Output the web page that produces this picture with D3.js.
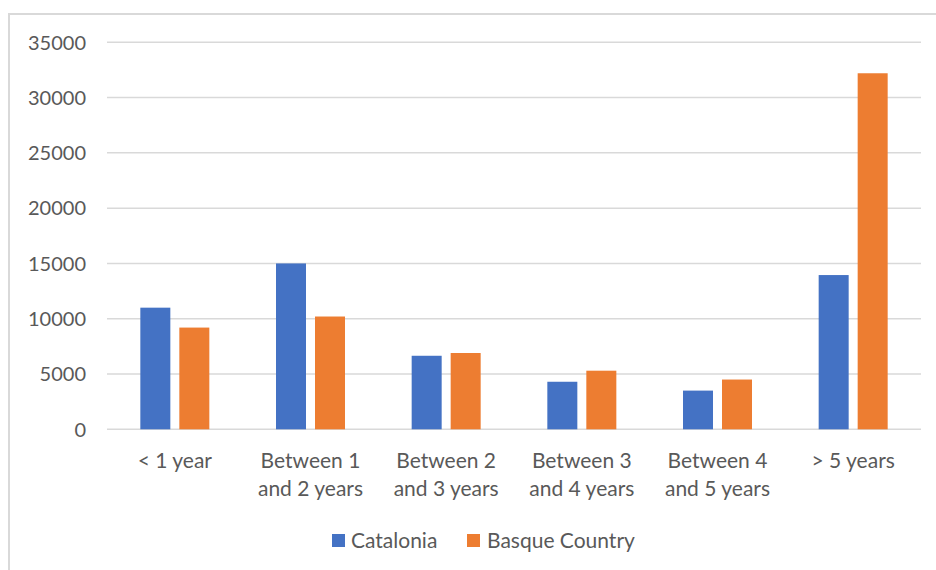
<!DOCTYPE html>
<html><head><meta charset="utf-8">
<script src="https://cdn.jsdelivr.net/npm/d3@7"></script>
<style>body{margin:0;background:#fff}svg{display:block}text{font-family:Lato,"Open Sans",sans-serif;fill:#595959}</style>
</head><body><svg id="c" width="936" height="570"></svg>
<script>
const categories = [["< 1 year"],["Between 1","and 2 years"],["Between 2","and 3 years"],["Between 3","and 4 years"],["Between 4","and 5 years"],["> 5 years"]];
const seriesNames = ["Catalonia","Basque Country"];
const catalonia = [11000,15000,6650,4300,3500,13950];
const basque = [9200,10200,6900,5300,4500,32200];
const yTicks = [0,5000,10000,15000,20000,25000,30000,35000];
const colors = ["#4472C4","#ED7D31"];

const svg = d3.select("#c");
svg.append("rect").attr("x",9).attr("y",14).attr("width",1000).attr("height",600)
  .attr("fill","#fff").attr("stroke","#d9d9d9").attr("stroke-width",2);

const L=107,R=921,T=42.3,B=429.3;
const x = d3.scaleBand().domain(d3.range(categories.length)).range([L,R]).paddingInner(0).paddingOuter(0);
const y = d3.scaleLinear().domain([0,35000]).range([B,T]);

svg.append("g").selectAll("line").data(yTicks).join("line")
  .attr("x1",L).attr("x2",R).attr("y1",d=>y(d)).attr("y2",d=>y(d))
  .attr("stroke","#d9d9d9").attr("stroke-width",1.5);
svg.append("g").selectAll("text").data(yTicks).join("text")
  .attr("x",86).attr("y",d=>y(d)).attr("dy","0.36em").attr("text-anchor","end")
  .attr("font-size",20).text(d=>d);

const bw = 30, gap = 9;
const data = [catalonia, basque];
data.forEach((vals,si)=>{
  svg.append("g").selectAll("rect").data(vals).join("rect")
    .attr("x",(d,i)=>x(i)+x.bandwidth()/2 - (bw*2+gap)/2 + si*(bw+gap))
    .attr("width",bw)
    .attr("y",d=>y(d)).attr("height",d=>B-y(d))
    .attr("fill",colors[si]);
});

const lab = svg.append("g");
categories.forEach((lines,i)=>{
  const t = lab.append("text").attr("text-anchor","middle").attr("font-size",21)
    .attr("x",x(i)+x.bandwidth()/2).attr("y",467.5);
  lines.forEach((s,k)=>t.append("tspan").attr("x",x(i)+x.bandwidth()/2).attr("dy",k?28:0).text(s));
});

const leg = [{x:332,tx:351},{x:467,tx:487}];
seriesNames.forEach((n,i)=>{
  svg.append("rect").attr("x",leg[i].x).attr("y",534).attr("width",13).attr("height",13).attr("fill",colors[i]);
  svg.append("text").attr("x",leg[i].tx).attr("y",540.5).attr("dy","0.36em").attr("font-size",21).text(n);
});
</script></body></html>
